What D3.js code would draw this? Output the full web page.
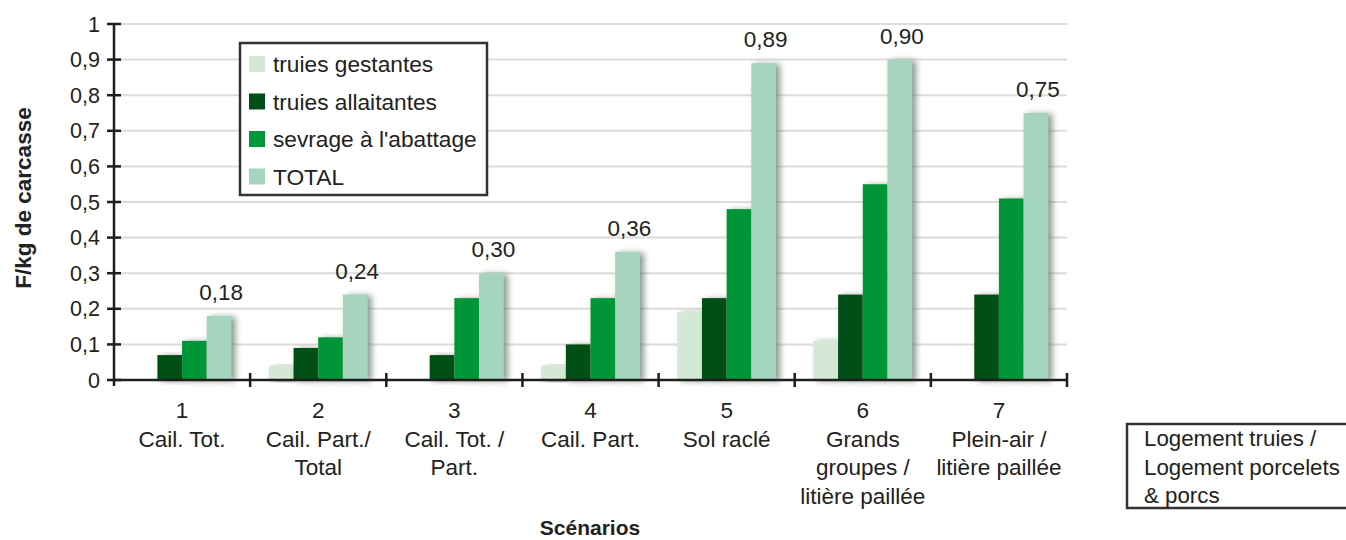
<!DOCTYPE html>
<html>
<head>
<meta charset="utf-8">
<script src="https://cdn.jsdelivr.net/npm/d3@7"></script>
<style>
  body { margin: 0; background: #fff; }
  svg { display: block; font-family: "Liberation Sans", Arial, sans-serif; }
</style>
</head>
<body>
<div id="chart"></div>
<script>
// scenarios and their labels
const categories = ["1", "2", "3", "4", "5", "6", "7"];
const scenarioLabels = [
  ["Cail. Tot."],
  ["Cail. Part./", "Total"],
  ["Cail. Tot. /", "Part."],
  ["Cail. Part."],
  ["Sol raclé"],
  ["Grands", "groupes /", "litière paillée"],
  ["Plein-air /", "litière paillée"]
];

// series (F/kg de carcasse)
const seriesNames = ["truies gestantes", "truies allaitantes", "sevrage à l'abattage", "TOTAL"];
const gestantes   = [0, 0.04, 0, 0.04, 0.19, 0.11, 0];
const allaitantes = [0.07, 0.09, 0.07, 0.10, 0.23, 0.24, 0.24];
const sevrage     = [0.11, 0.12, 0.23, 0.23, 0.48, 0.55, 0.51];
const total       = [0.18, 0.24, 0.30, 0.36, 0.89, 0.90, 0.75];

const yTicks = [0, 0.1, 0.2, 0.3, 0.4, 0.5, 0.6, 0.7, 0.8, 0.9, 1];
const boxLines = ["Logement truies /", "Logement porcelets", "& porcs"];

const colors = ["#d4e9d5", "#004f17", "#009639", "#a5d5bf"];
const allSeries = [gestantes, allaitantes, sevrage, total];

const W = 1346, H = 540;
const plotLeft = 114, plotRight = 1067, plotTop = 24, plotBottom = 380;
const textColor = "#222";

const fr = d3.formatLocale({ decimal: ",", thousands: " ", grouping: [3], currency: ["", "€"] });
const fmtTick = fr.format(".1~f");
const fmtVal = fr.format(".2f");

const svg = d3.select("#chart").append("svg")
  .attr("width", W)
  .attr("height", H);

// soft shadow behind the bars
const defs = svg.append("defs");
const filt = defs.append("filter")
  .attr("id", "shadow")
  .attr("x", "-30%").attr("y", "-10%")
  .attr("width", "170%").attr("height", "130%");
filt.append("feDropShadow")
  .attr("dx", 4).attr("dy", 1)
  .attr("stdDeviation", 3)
  .attr("flood-color", "#5f7566")
  .attr("flood-opacity", 0.75);

const x0 = d3.scaleBand()
  .domain(categories)
  .range([plotLeft, plotRight])
  .paddingInner(0)
  .paddingOuter(0);

const x1 = d3.scaleBand()
  .domain(seriesNames)
  .range([0, x0.bandwidth()])
  .paddingInner(0)
  .paddingOuter(0.76);

const y = d3.scaleLinear()
  .domain([0, 1])
  .range([plotBottom, plotTop]);

// gridlines
svg.append("g")
  .selectAll("line")
  .data(yTicks.filter(d => d > 0))
  .enter()
  .append("line")
  .attr("x1", plotLeft)
  .attr("x2", plotRight)
  .attr("y1", d => y(d))
  .attr("y2", d => y(d))
  .attr("stroke", "#dcdcdc")
  .attr("stroke-width", 2);

// bars
const groups = svg.append("g")
  .selectAll("g")
  .data(categories)
  .enter()
  .append("g")
  .attr("transform", d => `translate(${x0(d)},0)`);

groups.selectAll("rect")
  .data((d, i) => seriesNames.map((s, j) => ({ key: s, value: allSeries[j][i], color: colors[j] })).filter(b => b.value > 0))
  .enter()
  .append("rect")
  .attr("x", d => x1(d.key))
  .attr("y", d => y(d.value))
  .attr("width", x1.bandwidth())
  .attr("height", d => y(0) - y(d.value))
  .attr("fill", d => d.color)
  .attr("filter", "url(#shadow)");

// value labels on TOTAL
svg.append("g")
  .selectAll("text")
  .data(categories)
  .enter()
  .append("text")
  .attr("x", d => x0(d) + x1("TOTAL") + x1.bandwidth() / 2 + 2)
  .attr("y", (d, i) => y(total[i]) - 16)
  .attr("text-anchor", "middle")
  .attr("font-size", 22.5)
  .attr("fill", textColor)
  .text((d, i) => fmtVal(total[i]));

// y axis
const yAxis = svg.append("g");
yAxis.append("line")
  .attr("x1", plotLeft).attr("x2", plotLeft)
  .attr("y1", plotTop).attr("y2", plotBottom + 6)
  .attr("stroke", "#1e1e1e")
  .attr("stroke-width", 2.5);
yAxis.selectAll("line.tick")
  .data(yTicks)
  .enter()
  .append("line")
  .attr("class", "tick")
  .attr("x1", plotLeft - 7).attr("x2", plotLeft + 7)
  .attr("y1", d => y(d)).attr("y2", d => y(d))
  .attr("stroke", "#1e1e1e")
  .attr("stroke-width", 2.5);
yAxis.selectAll("text")
  .data(yTicks)
  .enter()
  .append("text")
  .attr("x", plotLeft - 14)
  .attr("y", d => y(d) + 7.5)
  .attr("text-anchor", "end")
  .attr("font-size", 21.5)
  .attr("fill", textColor)
  .text(d => fmtTick(d));

// x axis
const xAxis = svg.append("g");
xAxis.append("line")
  .attr("x1", plotLeft).attr("x2", plotRight)
  .attr("y1", plotBottom).attr("y2", plotBottom)
  .attr("stroke", "#1e1e1e")
  .attr("stroke-width", 2.5);
const boundaries = categories.map(c => x0(c) + x0.bandwidth());
xAxis.selectAll("line.tick")
  .data(boundaries)
  .enter()
  .append("line")
  .attr("class", "tick")
  .attr("x1", d => d).attr("x2", d => d)
  .attr("y1", plotBottom - 7).attr("y2", plotBottom + 7)
  .attr("stroke", "#1e1e1e")
  .attr("stroke-width", 2.5);

// category labels
const catLabels = xAxis.selectAll("text")
  .data(categories)
  .enter()
  .append("text")
  .attr("text-anchor", "middle")
  .attr("font-size", 22.5)
  .attr("fill", textColor);
catLabels.each(function(d, i) {
  const cx = x0(d) + x0.bandwidth() / 2;
  const t = d3.select(this);
  [d].concat(scenarioLabels[i]).forEach((line, k) => {
    t.append("tspan")
      .attr("x", cx)
      .attr("y", 418 + k * 28.5)
      .text(line);
  });
});

// axis titles
svg.append("text")
  .attr("transform", `translate(31,198) rotate(-90)`)
  .attr("text-anchor", "middle")
  .attr("font-size", 22.5)
  .attr("font-weight", "bold")
  .attr("fill", textColor)
  .text("F/kg de carcasse");

svg.append("text")
  .attr("x", 590)
  .attr("y", 535)
  .attr("text-anchor", "middle")
  .attr("font-size", 21)
  .attr("font-weight", "bold")
  .attr("fill", textColor)
  .text("Scénarios");

// legend
const legend = svg.append("g").attr("transform", "translate(240,43)");
legend.append("rect")
  .attr("width", 247)
  .attr("height", 152)
  .attr("fill", "#fff")
  .attr("stroke", "#333")
  .attr("stroke-width", 2.5);
const items = legend.selectAll("g.item")
  .data(seriesNames)
  .enter()
  .append("g")
  .attr("class", "item")
  .attr("transform", (d, i) => `translate(9,${21 + i * 37.5})`);
items.append("rect")
  .attr("y", -8)
  .attr("width", 16)
  .attr("height", 16)
  .attr("fill", (d, i) => colors[i]);
items.append("text")
  .attr("x", 24)
  .attr("y", 8)
  .attr("font-size", 22.7)
  .attr("fill", textColor)
  .text(d => d);

// side box
const box = svg.append("g").attr("transform", "translate(1127,424)");
box.append("rect")
  .attr("width", 240)
  .attr("height", 84)
  .attr("fill", "#fff")
  .attr("stroke", "#333")
  .attr("stroke-width", 2.5);
box.selectAll("text")
  .data(boxLines)
  .enter()
  .append("text")
  .attr("x", 17)
  .attr("y", (d, i) => 22 + i * 28.5)
  .attr("font-size", 22.3)
  .attr("fill", textColor)
  .text(d => d);
</script>
</body>
</html>
